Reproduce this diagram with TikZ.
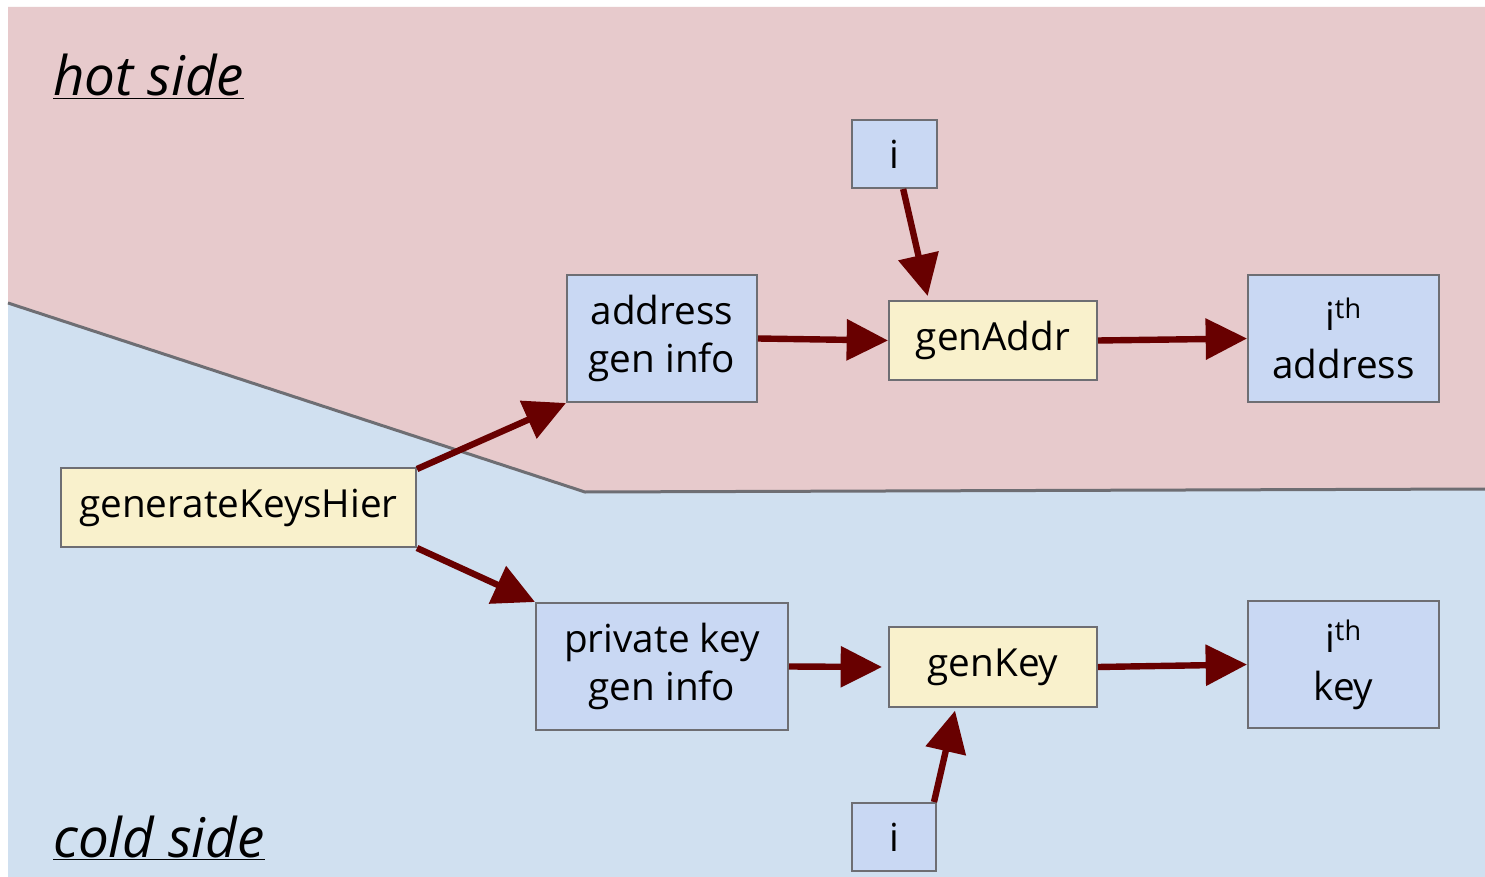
\documentclass[tikz,border=0pt]{standalone}
\usepackage{fontspec}
\setmainfont{Open Sans}
\usetikzlibrary{arrows.meta,calc}
\definecolor{hotbg}{RGB}{231,202,204}
\definecolor{coldbg}{RGB}{208,224,240}
\definecolor{nodeblue}{RGB}{201,216,243}
\definecolor{nodeyellow}{RGB}{249,241,204}
\definecolor{edgegrey}{RGB}{110,110,115}
\definecolor{arrowred}{RGB}{104,0,0}
\tikzset{
  box/.style={draw=edgegrey, line width=1.5pt, inner sep=0pt, align=center,
    font=\fontsize{29}{36}\selectfont, text=black},
  bluebox/.style={box, fill=nodeblue},
  yellowbox/.style={box, fill=nodeyellow},
  conn/.style={draw=arrowred, line width=4.8pt,
    -{Triangle[length=31pt,width=30pt]}, shorten >=0pt},
  sidelabel/.style={font=\fontsize{41}{48}\selectfont\itshape, anchor=base west, inner sep=0pt}
}
\newcommand{\thickunder}[1]{\underline{#1}}
\begin{document}
\begin{tikzpicture}[x=0.75pt,y=-0.75pt]
\useasboundingbox (0,0) rectangle (1485,877);
\fill[white] (0,0) rectangle (1485,877);
% regions
\fill[coldbg] (8,7) rectangle (1485,877);
\fill[hotbg] (8,7) -- (1485,7) -- (1485,489) -- (585,492) -- (8,303) -- cycle;
\draw[edgegrey, line width=2.25pt] (8,303) -- (585,492) -- (1485,489);
% side labels
\node[sidelabel] (hot) at (53,96) {\thickunder{hot side}};
\node[sidelabel] (cold) at (53,857) {\thickunder{cold side}};
% nodes
\node[yellowbox, minimum width=355*0.75pt, minimum height=79*0.75pt] (gkh) at (238.5,507.5) {generateKeysHier};
\node[bluebox, minimum width=190*0.75pt, minimum height=127*0.75pt] (agi) at (662,338.5) {address\\gen info};
\node[bluebox, minimum width=85*0.75pt, minimum height=68*0.75pt] (itop) at (894.5,154) {i};
\node[yellowbox, minimum width=208*0.75pt, minimum height=79*0.75pt] (ga) at (993,340.5) {genAddr};
\node[bluebox, minimum width=191*0.75pt, minimum height=127*0.75pt] (iaddr) at (1343.5,338.5) {i\textsuperscript{th}\\address};
\node[bluebox, minimum width=252*0.75pt, minimum height=127*0.75pt] (pki) at (662,666.5) {private key\\gen info};
\node[yellowbox, minimum width=208*0.75pt, minimum height=80*0.75pt] (gk) at (993,667) {genKey};
\node[bluebox, minimum width=191*0.75pt, minimum height=127*0.75pt] (ikey) at (1343.5,664.5) {i\textsuperscript{th}\\key};
\node[bluebox, minimum width=84*0.75pt, minimum height=68*0.75pt] (ibot) at (894,837) {i};
% connectors
\draw[conn] ([yshift=-1.5pt]gkh.north east) -- (agi.south west);
\draw[conn] (gkh.south east) -- (pki.north west);
\draw[conn] (agi.east) -- (ga.west);
\draw[conn] ([xshift=6.5pt]itop.south) -- ([xshift=-49pt,yshift=3pt]ga.north);
\draw[conn] (ga.east) -- (iaddr.west);
\draw[conn] (pki.east) -- ([xshift=-4.5pt]gk.west);
\draw[conn] (gk.east) -- (ikey.west);
\draw[conn] ([xshift=30pt]ibot.north) -- ([xshift=-28.5pt,yshift=-2pt]gk.south);
\end{tikzpicture}
\end{document}
